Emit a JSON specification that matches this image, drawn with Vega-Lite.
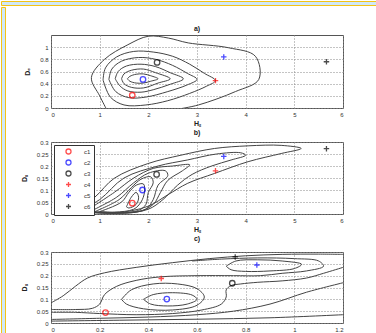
{
  "$schema": "https://vega.github.io/schema/vega-lite/v6.json",
  "background": "white",
  "padding": 0,
  "spacing": 0,
  "config": {
    "font": "Liberation Sans",
    "view": {"stroke": "#555", "strokeWidth": 1},
    "axis": {"labelFontSize": 6, "labelColor": "#333", "grid": true, "gridDash": [1, 2], "gridColor": "#888", "ticks": false, "domain": false, "labelPadding": 3, "titleFontSize": 7, "titleFontWeight": "bold", "titleColor": "#222", "format": "~g"},
    "axisY": {"titlePadding": 9},
    "axisX": {"titlePadding": 2},
    "title": {"fontSize": 7, "fontWeight": "bold", "offset": 3, "color": "#222"}
  },
  "datasets": {
    "frame": [{"f": 1}],
    "ca": [
      {"k":"a1","i":0,"x":1.14,"y":-0.02},{"k":"a1","i":1,"x":1.0,"y":0.2},{"k":"a1","i":2,"x":0.83,"y":0.5},{"k":"a1","i":3,"x":1.1,"y":0.8},{"k":"a1","i":4,"x":1.58,"y":1.04},{"k":"a1","i":5,"x":2.0,"y":1.18},{"k":"a1","i":6,"x":2.41,"y":1.15},{"k":"a1","i":7,"x":2.82,"y":1.07},{"k":"a1","i":8,"x":3.65,"y":0.99},{"k":"a1","i":9,"x":4.2,"y":0.85},{"k":"a1","i":10,"x":4.27,"y":0.47},{"k":"a1","i":11,"x":3.79,"y":0.27},{"k":"a1","i":12,"x":3.03,"y":0.05},{"k":"a1","i":13,"x":2.6,"y":-0.02},
      {"k":"a2","i":0,"x":1.07,"y":0.46},{"k":"a2","i":1,"x":1.12,"y":0.66},{"k":"a2","i":2,"x":1.35,"y":0.84},{"k":"a2","i":3,"x":1.7,"y":0.93},{"k":"a2","i":4,"x":2.1,"y":0.92},{"k":"a2","i":5,"x":2.5,"y":0.85},{"k":"a2","i":6,"x":2.85,"y":0.72},{"k":"a2","i":7,"x":3.15,"y":0.57},{"k":"a2","i":8,"x":3.38,"y":0.45},{"k":"a2","i":9,"x":3.2,"y":0.36},{"k":"a2","i":10,"x":2.85,"y":0.24},{"k":"a2","i":11,"x":2.4,"y":0.12},{"k":"a2","i":12,"x":1.95,"y":0.05},{"k":"a2","i":13,"x":1.5,"y":0.05},{"k":"a2","i":14,"x":1.22,"y":0.18},{"k":"a2","i":15,"x":1.07,"y":0.46},
      {"k":"a3","i":0,"x":1.19,"y":0.47},{"k":"a3","i":1,"x":1.25,"y":0.64},{"k":"a3","i":2,"x":1.45,"y":0.77},{"k":"a3","i":3,"x":1.8,"y":0.83},{"k":"a3","i":4,"x":2.15,"y":0.8},{"k":"a3","i":5,"x":2.5,"y":0.7},{"k":"a3","i":6,"x":2.8,"y":0.57},{"k":"a3","i":7,"x":3.0,"y":0.47},{"k":"a3","i":8,"x":2.8,"y":0.38},{"k":"a3","i":9,"x":2.4,"y":0.27},{"k":"a3","i":10,"x":1.95,"y":0.18},{"k":"a3","i":11,"x":1.6,"y":0.17},{"k":"a3","i":12,"x":1.33,"y":0.27},{"k":"a3","i":13,"x":1.19,"y":0.47},
      {"k":"a4","i":0,"x":1.32,"y":0.48},{"k":"a4","i":1,"x":1.38,"y":0.6},{"k":"a4","i":2,"x":1.55,"y":0.69},{"k":"a4","i":3,"x":1.85,"y":0.72},{"k":"a4","i":4,"x":2.15,"y":0.68},{"k":"a4","i":5,"x":2.45,"y":0.58},{"k":"a4","i":6,"x":2.72,"y":0.48},{"k":"a4","i":7,"x":2.45,"y":0.39},{"k":"a4","i":8,"x":2.1,"y":0.3},{"k":"a4","i":9,"x":1.85,"y":0.26},{"k":"a4","i":10,"x":1.58,"y":0.28},{"k":"a4","i":11,"x":1.42,"y":0.36},{"k":"a4","i":12,"x":1.32,"y":0.48},
      {"k":"a5","i":0,"x":1.45,"y":0.48},{"k":"a5","i":1,"x":1.5,"y":0.56},{"k":"a5","i":2,"x":1.65,"y":0.62},{"k":"a5","i":3,"x":1.9,"y":0.64},{"k":"a5","i":4,"x":2.15,"y":0.58},{"k":"a5","i":5,"x":2.45,"y":0.48},{"k":"a5","i":6,"x":2.2,"y":0.41},{"k":"a5","i":7,"x":1.9,"y":0.33},{"k":"a5","i":8,"x":1.65,"y":0.34},{"k":"a5","i":9,"x":1.5,"y":0.4},{"k":"a5","i":10,"x":1.45,"y":0.48},
      {"k":"a6","i":0,"x":1.57,"y":0.48},{"k":"a6","i":1,"x":1.62,"y":0.52},{"k":"a6","i":2,"x":1.75,"y":0.555},{"k":"a6","i":3,"x":1.9,"y":0.56},{"k":"a6","i":4,"x":2.05,"y":0.53},{"k":"a6","i":5,"x":2.2,"y":0.48},{"k":"a6","i":6,"x":2.05,"y":0.44},{"k":"a6","i":7,"x":1.9,"y":0.41},{"k":"a6","i":8,"x":1.75,"y":0.41},{"k":"a6","i":9,"x":1.62,"y":0.44},{"k":"a6","i":10,"x":1.57,"y":0.48}
    ],
    "cb": [
      {"k":"b1","i":0,"x":0.48,"y":0.011},{"k":"b1","i":1,"x":0.9,"y":0.07},{"k":"b1","i":2,"x":1.3,"y":0.149},{"k":"b1","i":3,"x":1.99,"y":0.21},{"k":"b1","i":4,"x":2.67,"y":0.245},{"k":"b1","i":5,"x":3.36,"y":0.273},{"k":"b1","i":6,"x":4.05,"y":0.284},{"k":"b1","i":7,"x":4.73,"y":0.286},{"k":"b1","i":8,"x":5.14,"y":0.273},{"k":"b1","i":9,"x":4.73,"y":0.252},{"k":"b1","i":10,"x":4.05,"y":0.218},{"k":"b1","i":11,"x":3.36,"y":0.169},{"k":"b1","i":12,"x":2.81,"y":0.128},{"k":"b1","i":13,"x":2.4,"y":0.08},{"k":"b1","i":14,"x":1.99,"y":0.032},{"k":"b1","i":15,"x":1.3,"y":0.004},{"k":"b1","i":16,"x":0.48,"y":0.011},
      {"k":"b2","i":0,"x":0.55,"y":0.01},{"k":"b2","i":1,"x":1.0,"y":0.06},{"k":"b2","i":2,"x":1.5,"y":0.15},{"k":"b2","i":3,"x":2.2,"y":0.2},{"k":"b2","i":4,"x":2.8,"y":0.225},{"k":"b2","i":5,"x":3.4,"y":0.25},{"k":"b2","i":6,"x":3.9,"y":0.255},{"k":"b2","i":7,"x":4.0,"y":0.245},{"k":"b2","i":8,"x":3.7,"y":0.225},{"k":"b2","i":9,"x":3.3,"y":0.2},{"k":"b2","i":10,"x":2.9,"y":0.165},{"k":"b2","i":11,"x":2.6,"y":0.12},{"k":"b2","i":12,"x":2.3,"y":0.06},{"k":"b2","i":13,"x":2.0,"y":0.02},{"k":"b2","i":14,"x":1.5,"y":0.005},{"k":"b2","i":15,"x":0.55,"y":0.01},
      {"k":"b3","i":0,"x":0.7,"y":0.01},{"k":"b3","i":1,"x":1.3,"y":0.09},{"k":"b3","i":2,"x":1.7,"y":0.15},{"k":"b3","i":3,"x":2.1,"y":0.19},{"k":"b3","i":4,"x":2.5,"y":0.2},{"k":"b3","i":5,"x":2.85,"y":0.205},{"k":"b3","i":6,"x":2.7,"y":0.18},{"k":"b3","i":7,"x":2.4,"y":0.14},{"k":"b3","i":8,"x":2.25,"y":0.09},{"k":"b3","i":9,"x":2.1,"y":0.04},{"k":"b3","i":10,"x":1.8,"y":0.01},{"k":"b3","i":11,"x":1.2,"y":0.003},{"k":"b3","i":12,"x":0.7,"y":0.01},
      {"k":"b4","i":0,"x":0.8,"y":0.01},{"k":"b4","i":1,"x":1.35,"y":0.07},{"k":"b4","i":2,"x":1.7,"y":0.13},{"k":"b4","i":3,"x":2.0,"y":0.17},{"k":"b4","i":4,"x":2.35,"y":0.18},{"k":"b4","i":5,"x":2.4,"y":0.16},{"k":"b4","i":6,"x":2.2,"y":0.12},{"k":"b4","i":7,"x":2.1,"y":0.06},{"k":"b4","i":8,"x":1.95,"y":0.02},{"k":"b4","i":9,"x":1.6,"y":0.005},{"k":"b4","i":10,"x":0.8,"y":0.01},
      {"k":"b5","i":0,"x":0.9,"y":0.01},{"k":"b5","i":1,"x":1.4,"y":0.06},{"k":"b5","i":2,"x":1.65,"y":0.11},{"k":"b5","i":3,"x":1.85,"y":0.145},{"k":"b5","i":4,"x":2.05,"y":0.155},{"k":"b5","i":5,"x":2.1,"y":0.13},{"k":"b5","i":6,"x":2.0,"y":0.09},{"k":"b5","i":7,"x":1.95,"y":0.04},{"k":"b5","i":8,"x":1.8,"y":0.015},{"k":"b5","i":9,"x":1.4,"y":0.006},{"k":"b5","i":10,"x":0.9,"y":0.01},
      {"k":"b6","i":0,"x":1.0,"y":0.01},{"k":"b6","i":1,"x":1.45,"y":0.05},{"k":"b6","i":2,"x":1.6,"y":0.09},{"k":"b6","i":3,"x":1.75,"y":0.12},{"k":"b6","i":4,"x":1.9,"y":0.125},{"k":"b6","i":5,"x":1.92,"y":0.09},{"k":"b6","i":6,"x":1.85,"y":0.05},{"k":"b6","i":7,"x":1.7,"y":0.02},{"k":"b6","i":8,"x":1.3,"y":0.008},{"k":"b6","i":9,"x":1.0,"y":0.01},
      {"k":"b7","i":0,"x":1.55,"y":0.03},{"k":"b7","i":1,"x":1.65,"y":0.07},{"k":"b7","i":2,"x":1.75,"y":0.09},{"k":"b7","i":3,"x":1.8,"y":0.07},{"k":"b7","i":4,"x":1.75,"y":0.04},{"k":"b7","i":5,"x":1.6,"y":0.025},{"k":"b7","i":6,"x":1.55,"y":0.03}
    ],
    "cc": [
      {"k":"c1","i":0,"x":0,"y":0.085},{"k":"c1","i":1,"x":0.05,"y":0.115},{"k":"c1","i":2,"x":0.1,"y":0.155},{"k":"c1","i":3,"x":0.15,"y":0.19},{"k":"c1","i":4,"x":0.22,"y":0.212},{"k":"c1","i":5,"x":0.35,"y":0.235},{"k":"c1","i":6,"x":0.5,"y":0.255},{"k":"c1","i":7,"x":0.65,"y":0.272},{"k":"c1","i":8,"x":0.8,"y":0.284},{"k":"c1","i":9,"x":0.95,"y":0.29},{"k":"c1","i":10,"x":1.1,"y":0.291},{"k":"c1","i":11,"x":1.2,"y":0.29},
      {"k":"c2","i":0,"x":0,"y":0.057},{"k":"c2","i":1,"x":0.1,"y":0.057},{"k":"c2","i":2,"x":0.17,"y":0.062},{"k":"c2","i":3,"x":0.2,"y":0.08},{"k":"c2","i":4,"x":0.22,"y":0.12},{"k":"c2","i":5,"x":0.27,"y":0.155},{"k":"c2","i":6,"x":0.35,"y":0.18},{"k":"c2","i":7,"x":0.45,"y":0.195},{"k":"c2","i":8,"x":0.6,"y":0.2},{"k":"c2","i":9,"x":0.75,"y":0.2},{"k":"c2","i":10,"x":0.86,"y":0.2},{"k":"c2","i":11,"x":0.95,"y":0.21},{"k":"c2","i":12,"x":1.05,"y":0.22},{"k":"c2","i":13,"x":1.12,"y":0.24},{"k":"c2","i":14,"x":1.1,"y":0.262},{"k":"c2","i":15,"x":1.0,"y":0.272},{"k":"c2","i":16,"x":0.85,"y":0.275},{"k":"c2","i":17,"x":0.7,"y":0.27},{"k":"c2","i":18,"x":0.58,"y":0.262},
      {"k":"c3","i":0,"x":0.72,"y":0.24},{"k":"c3","i":1,"x":0.76,"y":0.262},{"k":"c3","i":2,"x":0.85,"y":0.267},{"k":"c3","i":3,"x":0.95,"y":0.262},{"k":"c3","i":4,"x":1.03,"y":0.248},{"k":"c3","i":5,"x":1.0,"y":0.23},{"k":"c3","i":6,"x":0.9,"y":0.22},{"k":"c3","i":7,"x":0.8,"y":0.218},{"k":"c3","i":8,"x":0.74,"y":0.225},{"k":"c3","i":9,"x":0.72,"y":0.24},
      {"k":"c4","i":0,"x":0,"y":0.045},{"k":"c4","i":1,"x":0.1,"y":0.045},{"k":"c4","i":2,"x":0.2,"y":0.04},{"k":"c4","i":3,"x":0.35,"y":0.035},{"k":"c4","i":4,"x":0.5,"y":0.04},{"k":"c4","i":5,"x":0.62,"y":0.055},{"k":"c4","i":6,"x":0.7,"y":0.08},{"k":"c4","i":7,"x":0.72,"y":0.11},{"k":"c4","i":8,"x":0.72,"y":0.14},{"k":"c4","i":9,"x":0.74,"y":0.158},{"k":"c4","i":10,"x":0.78,"y":0.165},{"k":"c4","i":11,"x":0.85,"y":0.172},{"k":"c4","i":12,"x":0.95,"y":0.178},{"k":"c4","i":13,"x":1.05,"y":0.19},{"k":"c4","i":14,"x":1.12,"y":0.21},{"k":"c4","i":15,"x":1.2,"y":0.235},
      {"k":"c5","i":0,"x":0.29,"y":0.1},{"k":"c5","i":1,"x":0.33,"y":0.14},{"k":"c5","i":2,"x":0.42,"y":0.165},{"k":"c5","i":3,"x":0.52,"y":0.165},{"k":"c5","i":4,"x":0.6,"y":0.145},{"k":"c5","i":5,"x":0.63,"y":0.11},{"k":"c5","i":6,"x":0.6,"y":0.075},{"k":"c5","i":7,"x":0.5,"y":0.055},{"k":"c5","i":8,"x":0.38,"y":0.06},{"k":"c5","i":9,"x":0.31,"y":0.08},{"k":"c5","i":10,"x":0.29,"y":0.1},
      {"k":"c6","i":0,"x":0.38,"y":0.1},{"k":"c6","i":1,"x":0.42,"y":0.12},{"k":"c6","i":2,"x":0.5,"y":0.128},{"k":"c6","i":3,"x":0.58,"y":0.118},{"k":"c6","i":4,"x":0.6,"y":0.1},{"k":"c6","i":5,"x":0.56,"y":0.08},{"k":"c6","i":6,"x":0.48,"y":0.072},{"k":"c6","i":7,"x":0.41,"y":0.08},{"k":"c6","i":8,"x":0.38,"y":0.1},
      {"k":"c7","i":0,"x":0,"y":0.015},{"k":"c7","i":1,"x":0.2,"y":0.02},{"k":"c7","i":2,"x":0.4,"y":0.025},{"k":"c7","i":3,"x":0.6,"y":0.035},{"k":"c7","i":4,"x":0.75,"y":0.05},{"k":"c7","i":5,"x":0.9,"y":0.08},{"k":"c7","i":6,"x":1.05,"y":0.13},{"k":"c7","i":7,"x":1.2,"y":0.17},
      {"k":"c8","i":0,"x":0,"y":0.008},{"k":"c8","i":1,"x":0.3,"y":0.012},{"k":"c8","i":2,"x":0.6,"y":0.016},{"k":"c8","i":3,"x":0.9,"y":0.022},{"k":"c8","i":4,"x":1.2,"y":0.035}
    ],
    "m": [
      {"p":"a","s":"c1","x":1.67,"y":0.21},{"p":"a","s":"c2","x":1.89,"y":0.47},{"p":"a","s":"c3","x":2.18,"y":0.75},{"p":"a","s":"c4","x":3.38,"y":0.45},{"p":"a","s":"c5","x":3.55,"y":0.84},{"p":"a","s":"c6","x":5.66,"y":0.76},
      {"p":"b","s":"c1","x":1.67,"y":0.045},{"p":"b","s":"c2","x":1.88,"y":0.1},{"p":"b","s":"c3","x":2.17,"y":0.165},{"p":"b","s":"c4","x":3.38,"y":0.18},{"p":"b","s":"c5","x":3.55,"y":0.24},{"p":"b","s":"c6","x":5.66,"y":0.272},
      {"p":"c","s":"c1","x":0.224,"y":0.044},{"p":"c","s":"c2","x":0.476,"y":0.101},{"p":"c","s":"c3","x":0.745,"y":0.168},{"p":"c","s":"c4","x":0.453,"y":0.188},{"p":"c","s":"c5","x":0.846,"y":0.245},{"p":"c","s":"c6","x":0.757,"y":0.279}
    ]
  },
  "vconcat": [
    {
      "width": 376, "height": 4,
      "view": {"fill": "#cfe8f8", "stroke": "#f4c316", "strokeWidth": 1},
      "data": {"name": "frame"},
      "mark": {"type": "text", "text": "", "fontSize": 0, "clip": true},
      "encoding": {}
    },
    {
      "spacing": 13,
      "hconcat": [
        {
          "width": 4, "height": 329,
          "view": {"fill": "#cfe8f8", "stroke": "#f4c316", "strokeWidth": 1},
          "data": {"name": "frame"},
          "mark": {"type": "text", "text": "", "fontSize": 0, "clip": true},
          "encoding": {}
        },
        {
          "spacing": 1,
          "resolve": {"scale": {"color": "independent", "shape": "independent"}},
          "vconcat": [
            {
              "width": 292, "height": 16,
              "view": {"stroke": null},
              "data": {"name": "frame"},
              "mark": {"type": "text", "text": "", "fontSize": 0, "clip": true},
              "encoding": {}
            },
            {
              "width": 292, "height": 73, "title": "a)",
              "encoding": {
                "x": {"field": "x", "type": "quantitative", "scale": {"domain": [0, 6], "nice": false, "zero": false}, "axis": {"values": [0,1,2,3,4,5,6], "title": "Hₛ"}},
                "y": {"field": "y", "type": "quantitative", "scale": {"domain": [0, 1.2], "nice": false}, "axis": {"values": [0,0.2,0.4,0.6,0.8,1], "title": "Dₑ"}}
              },
              "layer": [
                {"data": {"name": "ca"}, "mark": {"type": "line", "color": "#444", "strokeWidth": 1, "interpolate": "catmull-rom", "clip": true},
                 "encoding": {"detail": {"field": "k"}, "order": {"field": "i", "type": "quantitative"}}},
                {"data": {"name": "m"}, "transform": [{"filter": "datum.p == 'a'"}],
                 "mark": {"type": "point", "filled": false, "strokeWidth": 1.3, "size": 30},
                 "encoding": {
                   "color": {"field": "s", "type": "nominal", "scale": {"domain": ["c1","c2","c3","c4","c5","c6"], "range": ["#ff0000","#0000ff","#000000","#ff0000","#0000ff","#000000"]}, "legend": null},
                   "shape": {"field": "s", "type": "nominal", "scale": {"domain": ["c1","c2","c3","c4","c5","c6"], "range": ["circle","circle","circle","M-1,0H1M0,-1V1","M-1,0H1M0,-1V1","M-1,0H1M0,-1V1"]}, "legend": null}}}
              ]
            },
            {
              "width": 292, "height": 72, "title": "b)",
              "encoding": {
                "x": {"field": "x", "type": "quantitative", "scale": {"domain": [0, 6], "nice": false, "zero": false}, "axis": {"values": [0,1,2,3,4,5,6], "title": "Hₛ"}},
                "y": {"field": "y", "type": "quantitative", "scale": {"domain": [0, 0.3], "nice": false}, "axis": {"values": [0,0.05,0.1,0.15,0.2,0.25,0.3], "title": "Dₛ"}}
              },
              "layer": [
                {"data": {"name": "cb"}, "mark": {"type": "line", "color": "#444", "strokeWidth": 1, "interpolate": "catmull-rom", "clip": true},
                 "encoding": {"detail": {"field": "k"}, "order": {"field": "i", "type": "quantitative"}}},
                {"data": {"name": "m"}, "transform": [{"filter": "datum.p == 'b'"}],
                 "mark": {"type": "point", "filled": false, "strokeWidth": 1.3, "size": 30},
                 "encoding": {
                   "color": {"field": "s", "type": "nominal", "scale": {"domain": ["c1","c2","c3","c4","c5","c6"], "range": ["#ff0000","#0000ff","#000000","#ff0000","#0000ff","#000000"]},
                     "legend": {"title": null, "orient": "top-left", "offset": 3, "padding": 3, "fillColor": "white", "strokeColor": "#333", "symbolSize": 25, "symbolStrokeWidth": 1.3, "labelFontSize": 6, "labelOffset": 12, "rowPadding": 0, "symbolOffset": 8, "labelColor": "#333"}},
                   "shape": {"field": "s", "type": "nominal", "scale": {"domain": ["c1","c2","c3","c4","c5","c6"], "range": ["circle","circle","circle","M-1,0H1M0,-1V1","M-1,0H1M0,-1V1","M-1,0H1M0,-1V1"]},
                     "legend": {"title": null, "orient": "top-left", "offset": 3, "padding": 3, "fillColor": "white", "strokeColor": "#333", "symbolSize": 25, "symbolStrokeWidth": 1.3, "labelFontSize": 6, "labelOffset": 12, "rowPadding": 0, "symbolOffset": 8, "labelColor": "#333"}}}}
              ]
            },
            {
              "width": 292, "height": 71, "title": {"text": "c)", "offset": 7},
              "encoding": {
                "x": {"field": "x", "type": "quantitative", "scale": {"domain": [0, 1.2], "nice": false, "zero": false}, "axis": {"values": [0,0.2,0.4,0.6,0.8,1,1.2], "title": null}},
                "y": {"field": "y", "type": "quantitative", "scale": {"domain": [0, 0.3], "nice": false}, "axis": {"values": [0,0.05,0.1,0.15,0.2,0.25,0.3], "title": "Dₛ"}}
              },
              "layer": [
                {"data": {"name": "cc"}, "mark": {"type": "line", "color": "#444", "strokeWidth": 1, "interpolate": "catmull-rom", "clip": true},
                 "encoding": {"detail": {"field": "k"}, "order": {"field": "i", "type": "quantitative"}}},
                {"data": {"name": "m"}, "transform": [{"filter": "datum.p == 'c'"}],
                 "mark": {"type": "point", "filled": false, "strokeWidth": 1.3, "size": 30},
                 "encoding": {
                   "color": {"field": "s", "type": "nominal", "scale": {"domain": ["c1","c2","c3","c4","c5","c6"], "range": ["#ff0000","#0000ff","#000000","#ff0000","#0000ff","#000000"]}, "legend": null},
                   "shape": {"field": "s", "type": "nominal", "scale": {"domain": ["c1","c2","c3","c4","c5","c6"], "range": ["circle","circle","circle","M-1,0H1M0,-1V1","M-1,0H1M0,-1V1","M-1,0H1M0,-1V1"]}, "legend": null}}}
              ]
            }
          ]
        }
      ]
    }
  ]
}
